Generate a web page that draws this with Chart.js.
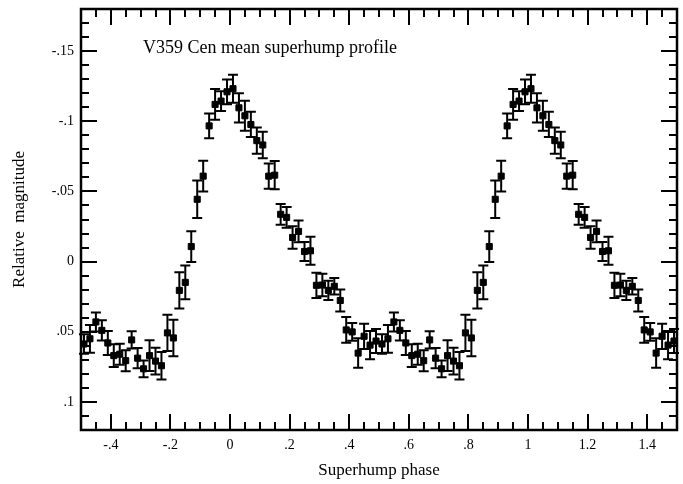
<!DOCTYPE html>
<html>
<head>
<meta charset="utf-8">
<title>V359 Cen mean superhump profile</title>
<script src="https://cdn.jsdelivr.net/npm/chart.js@4.4.1/dist/chart.umd.min.js"></script>
<style>
  body { margin: 0; background: #fff; }
</style>
</head>
<body>
<canvas id="profile" width="683" height="484"></canvas>
<script>
// Mean superhump profile, phase bins of 0.02
const phases = [
  -0.49, -0.47, -0.45, -0.43, -0.41, -0.39, -0.37, -0.35, -0.33, -0.31,
  -0.29, -0.27, -0.25, -0.23, -0.21, -0.19, -0.17, -0.15, -0.13, -0.11,
  -0.09, -0.07, -0.05, -0.03, -0.01, 0.01, 0.03, 0.05, 0.07, 0.09,
  0.11, 0.13, 0.15, 0.17, 0.19, 0.21, 0.23, 0.25, 0.27, 0.29,
  0.31, 0.33, 0.35, 0.37, 0.39, 0.41, 0.43, 0.45, 0.47, 0.49
];
const magnitudes = [
  0.0587, 0.0550, 0.0430, 0.0490, 0.0580, 0.0670, 0.0660, 0.0706, 0.0558, 0.0688,
  0.0764, 0.0670, 0.0709, 0.0742, 0.0508, 0.0544, 0.0205, 0.0148, -0.0107, -0.0444,
  -0.0609, -0.0967, -0.1120, -0.1144, -0.1210, -0.1232, -0.1096, -0.1039, -0.0977, -0.0862,
  -0.0831, -0.0609, -0.0616, -0.0337, -0.0315, -0.0172, -0.0215, -0.0072, -0.0077, 0.0169,
  0.0167, 0.0205, 0.0176, 0.0277, 0.0487, 0.0501, 0.0652, 0.0532, 0.0595, 0.0566
];
const errors = [
  0.0069, 0.0099, 0.0068, 0.0072, 0.0085, 0.0081, 0.0075, 0.0075, 0.0062, 0.0072,
  0.0060, 0.0110, 0.0095, 0.0098, 0.0129, 0.0130, 0.0130, 0.0120, 0.0110, 0.0134,
  0.0110, 0.0088, 0.0110, 0.0070, 0.0088, 0.0100, 0.0104, 0.0107, 0.0090, 0.0093,
  0.0095, 0.0090, 0.0100, 0.0074, 0.0074, 0.0080, 0.0078, 0.0068, 0.0100, 0.0090,
  0.0080, 0.0068, 0.0059, 0.0079, 0.0092, 0.0063, 0.0105, 0.0090, 0.0100, 0.0086
];

const xTicks = [-0.4, -0.2, 0, 0.2, 0.4, 0.6, 0.8, 1, 1.2, 1.4];
const yTicks = [-0.15, -0.1, -0.05, 0, 0.05, 0.1];

const serif = '"Liberation Serif", "Times New Roman", serif';

// the profile is shown over two cycles
const points = [];
[0, 1].forEach(cycle => {
    phases.forEach((p, i) => {
        points.push({ x: p + cycle, y: magnitudes[i], err: errors[i] });
    });
});

// "-0.4" -> "-.4", "0.15" -> ".15"
function fmt(v) {
    return String(Number(v.toFixed(2))).replace('0.', '.');
}

// vertical error bars with caps
const errorBars = {
    id: 'errorBars',
    beforeDatasetsDraw(chart) {
        const { ctx, scales: { x, y } } = chart;
        ctx.save();
        ctx.strokeStyle = '#000';
        ctx.lineWidth = 2;
        chart.data.datasets[0].data.forEach(pt => {
            const px = x.getPixelForValue(pt.x);
            const top = y.getPixelForValue(pt.y - pt.err);
            const bot = y.getPixelForValue(pt.y + pt.err);
            ctx.beginPath();
            ctx.moveTo(px, top);
            ctx.lineTo(px, bot);
            ctx.moveTo(px - 5, top);
            ctx.lineTo(px + 5, top);
            ctx.moveTo(px - 5, bot);
            ctx.lineTo(px + 5, bot);
            ctx.stroke();
        });
        ctx.restore();
    }
};

// box frame with inward ticks on all four sides, plus the caption
const frame = {
    id: 'frame',
    afterDraw(chart) {
        const { ctx, chartArea: a, scales: { x, y } } = chart;
        ctx.save();
        ctx.strokeStyle = '#000';
        ctx.lineWidth = 2;
        ctx.beginPath();
        for (let v = -0.45; v < 1.5; v += 0.05) {
            const major = xTicks.some(t => Math.abs(t - v) < 1e-6);
            const len = major ? 16 : 8;
            const px = Math.round(x.getPixelForValue(v));
            ctx.moveTo(px, a.bottom);
            ctx.lineTo(px, a.bottom - len);
            ctx.moveTo(px, a.top);
            ctx.lineTo(px, a.top + len);
        }
        for (let v = -0.17; v < 0.12; v += 0.01) {
            const major = yTicks.some(t => Math.abs(t - v) < 1e-6);
            const len = major ? 16 : 8;
            const py = Math.round(y.getPixelForValue(v));
            ctx.moveTo(a.left, py);
            ctx.lineTo(a.left + len, py);
            ctx.moveTo(a.right, py);
            ctx.lineTo(a.right - len, py);
        }
        ctx.stroke();
        ctx.lineWidth = 2.5;
        ctx.strokeRect(a.left, a.top, a.right - a.left, a.bottom - a.top);

        ctx.fillStyle = '#000';
        ctx.font = '18px ' + serif;
        ctx.textBaseline = 'alphabetic';
        ctx.fillText('V359 Cen mean superhump profile', a.left + 62, a.top + 44);
        ctx.restore();
    }
};

new Chart(document.getElementById('profile'), {
    type: 'scatter',
    data: {
        datasets: [{
            data: points,
            pointStyle: 'rect',
            pointRadius: 4.3,
            pointBorderWidth: 1,
            backgroundColor: '#000',
            borderColor: '#000'
        }]
    },
    options: {
        responsive: false,
        animation: false,
        events: [],
        devicePixelRatio: 1,
        layout: { padding: { top: 9, right: 6, left: 0, bottom: 0 } },
        plugins: { legend: { display: false }, tooltip: { enabled: false } },
        scales: {
            x: {
                type: 'linear',
                min: -0.5,
                max: 1.5,
                afterBuildTicks: axis => { axis.ticks = xTicks.map(v => ({ value: v })); },
                afterFit: s => {
                    s.height = 54;
                    s.paddingLeft = 0;
                    s.paddingRight = 0;
                },
                grid: { display: false, drawTicks: false },
                border: { display: false },
                ticks: {
                    color: '#000',
                    font: { family: serif, size: 14 },
                    padding: 7,
                    maxRotation: 0,
                    autoSkip: false,
                    callback: v => fmt(v)
                },
                title: {
                    display: true,
                    text: 'Superhump phase',
                    color: '#000',
                    font: { family: serif, size: 17 },
                    padding: { top: 0, bottom: 3 }
                }
            },
            y: {
                type: 'linear',
                reverse: true,
                min: -0.18,
                max: 0.12,
                afterBuildTicks: axis => { axis.ticks = yTicks.map(v => ({ value: v })); },
                afterFit: s => {
                    s.width = 81;
                    s.paddingTop = 0;
                    s.paddingBottom = 0;
                },
                grid: { display: false, drawTicks: false },
                border: { display: false },
                ticks: {
                    color: '#000',
                    font: { family: serif, size: 14 },
                    padding: 7,
                    autoSkip: false,
                    callback: v => fmt(v)
                },
                title: {
                    display: true,
                    text: 'Relative  magnitude',
                    color: '#000',
                    font: { family: serif, size: 17 },
                    padding: { top: 9, bottom: 0 }
                }
            }
        }
    },
    plugins: [errorBars, frame]
});
</script>
</body>
</html>
